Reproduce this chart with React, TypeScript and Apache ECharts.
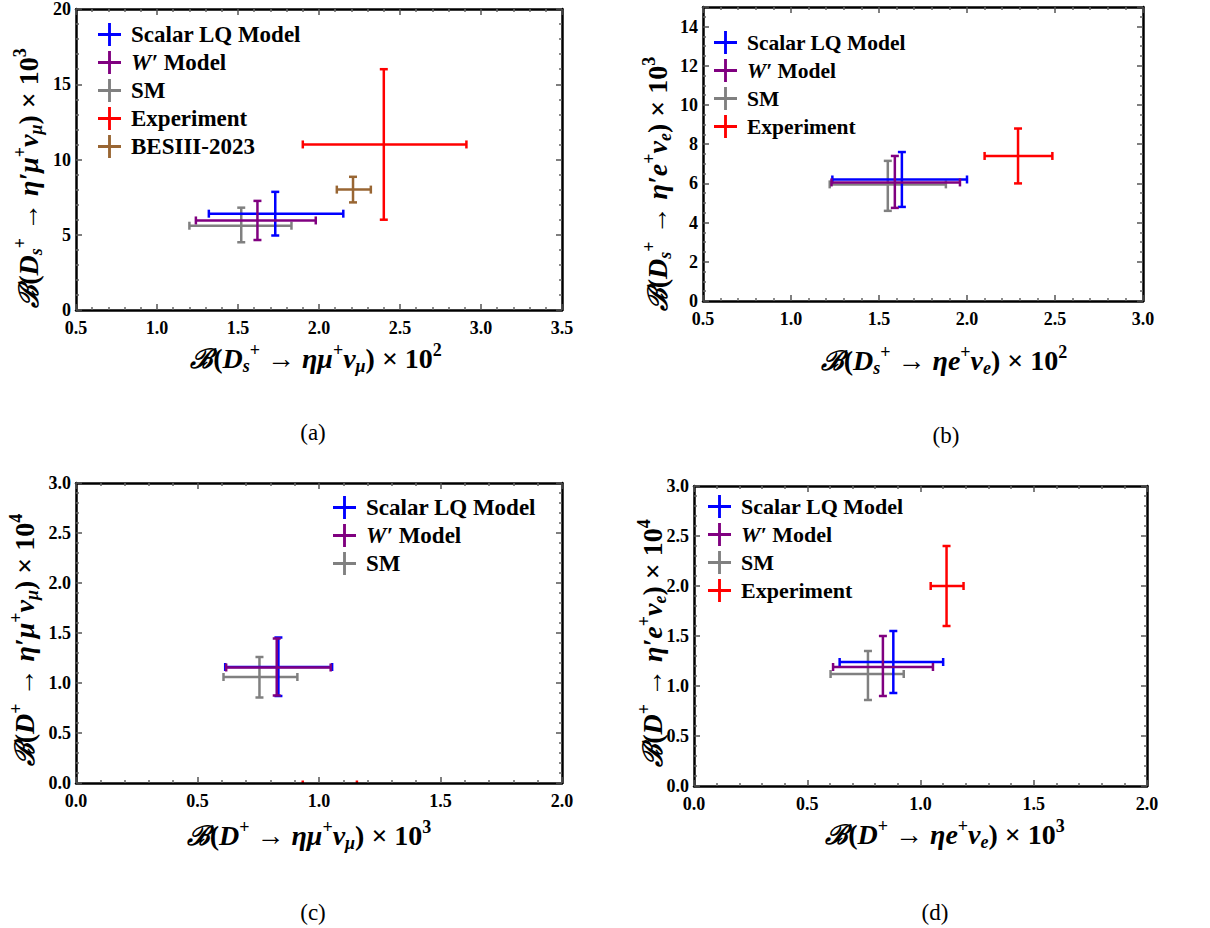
import React, { useEffect, useRef } from "react";
import * as echarts from "echarts";

// ---------- data: [x, y, xLow, xHigh, yLow, yHigh] ----------
const seriesNames = ["Scalar LQ Model", "W′ Model", "SM", "Experiment", "BESIII-2023"];
const seriesColors = ["#0000ff", "#800080", "#808080", "#ff0000", "#996633"];

// (a) B(Ds+ -> eta mu nu) x 10^2  vs  B(Ds+ -> eta' mu nu) x 10^3
const a_LQ = [1.73, 6.4, 1.32, 2.15, 4.95, 7.85];
const a_Wp = [1.62, 5.95, 1.24, 1.98, 4.65, 7.25];
const a_SM = [1.52, 5.6, 1.2, 1.83, 4.5, 6.8];
const a_Exp = [2.4, 11.0, 1.9, 2.91, 6.0, 16.0];
const a_BES = [2.21, 8.0, 2.11, 2.32, 7.15, 8.85];

// (b) B(Ds+ -> eta e nu) x 10^2  vs  B(Ds+ -> eta' e nu) x 10^3
const b_LQ = [1.63, 6.2, 1.235, 2.0, 4.8, 7.6];
const b_Wp = [1.59, 6.05, 1.23, 1.96, 4.75, 7.4];
const b_SM = [1.55, 5.95, 1.22, 1.88, 4.6, 7.15];
const b_Exp = [2.29, 7.4, 2.1, 2.485, 6.0, 8.8];

// (c) B(D+ -> eta mu nu) x 10^3  vs  B(D+ -> eta' mu nu) x 10^4
const c_LQ = [0.833, 1.16, 0.614, 1.054, 0.87, 1.455];
const c_Wp = [0.826, 1.155, 0.618, 1.048, 0.875, 1.445];
const c_SM = [0.755, 1.06, 0.607, 0.911, 0.855, 1.26];
const c_Exp = [1.045, -0.015, 0.933, 1.156, -0.015, -0.015];

// (d) B(D+ -> eta e nu) x 10^3  vs  B(D+ -> eta' e nu) x 10^4
const d_LQ = [0.88, 1.24, 0.643, 1.1, 0.93, 1.55];
const d_Wp = [0.834, 1.19, 0.614, 1.055, 0.9, 1.5];
const d_SM = [0.768, 1.12, 0.603, 0.926, 0.86, 1.35];
const d_Exp = [1.115, 2.0, 1.045, 1.19, 1.6, 2.4];

// axis ranges: [xMin, xMax, xInterval, yMin, yMax, yInterval]
const a_axes = [0.5, 3.5, 0.5, 0, 20, 5];
const b_axes = [0.5, 3.0, 0.5, 0, 15, 2];
const c_axes = [0, 2, 0.5, 0, 3, 0.5];
const d_axes = [0, 2, 0.5, 0, 3, 0.5];

const panelLabels = ["(a)", "(b)", "(c)", "(d)"];

const FONT = "Liberation Serif";

// ---------- layout ----------
const grids = [
  { left: 76, top: 8, width: 486, height: 302 },
  { left: 703, top: 7, width: 440, height: 294 },
  { left: 76, top: 483, width: 486, height: 300 },
  { left: 694, top: 486, width: 453, height: 300 },
];

const LH = 34;
const richT = {
  s: { fontSize: 27, fontWeight: "bold", fontFamily: "DejaVu Serif", fontStyle: "italic", lineHeight: LH, verticalAlign: "middle" },
  i: { fontSize: 28, fontWeight: "bold", fontStyle: "italic", fontFamily: FONT, lineHeight: LH, verticalAlign: "middle" },
  n: { fontSize: 28, fontWeight: "bold", fontFamily: FONT, lineHeight: LH, verticalAlign: "middle" },
  sub: { fontSize: 18, fontWeight: "bold", fontStyle: "italic", fontFamily: FONT, lineHeight: 18, verticalAlign: "bottom" },
  sup: { fontSize: 18, fontWeight: "bold", fontFamily: FONT, lineHeight: 20, verticalAlign: "top" },
};

const xTitles = [
  "{s|ℬ}{n|(}{i|D}{sub|s}{sup|+}{n| → }{i|ημ}{sup|+}{i|ν}{sub|μ}{n|) × 10}{sup|2}",
  "{s|ℬ}{n|(}{i|D}{sub|s}{sup|+}{n| → }{i|ηe}{sup|+}{i|ν}{sub|e}{n|) × 10}{sup|2}",
  "{s|ℬ}{n|(}{i|D}{sup|+}{n| → }{i|ημ}{sup|+}{i|ν}{sub|μ}{n|) × 10}{sup|3}",
  "{s|ℬ}{n|(}{i|D}{sup|+}{n| → }{i|ηe}{sup|+}{i|ν}{sub|e}{n|) × 10}{sup|3}",
];
const yTitles = [
  "{s|ℬ}{n|(}{i|D}{sub|s}{sup|+}{n| → }{i|η′μ}{sup|+}{i|ν}{sub|μ}{n|) × 10}{sup|3}",
  "{s|ℬ}{n|(}{i|D}{sub|s}{sup|+}{n| → }{i|η′e}{sup|+}{i|ν}{sub|e}{n|) × 10}{sup|3}",
  "{s|ℬ}{n|(}{i|D}{sup|+}{n| → }{i|η′μ}{sup|+}{i|ν}{sub|μ}{n|) × 10}{sup|4}",
  "{s|ℬ}{n|(}{i|D}{sup|+}{n| → }{i|η′e}{sup|+}{i|ν}{sub|e}{n|) × 10}{sup|4}",
];
const xTitlePos = [[316, 358], [944, 360], [309, 835], [945, 834]];
const yTitlePos = [[28, 178], [657, 184], [24, 640], [652, 643]];
const labelPos = [[313, 432], [946, 435], [313, 912], [935, 912]];

const legendPos = [
  { left: 98, top: 23, names: [0, 1, 2, 3, 4], size: 23 },
  { left: 714, top: 31, names: [0, 1, 2, 3], size: 21.5 },
  { left: 333, top: 496, names: [0, 1, 2], size: 23 },
  { left: 708, top: 495, names: [0, 1, 2, 3], size: 22 },
];

const PLUS = "path://M10.5,0L13.5,0L13.5,10.5L24,10.5L24,13.5L13.5,13.5L13.5,24L10.5,24L10.5,13.5L0,13.5L0,10.5L10.5,10.5Z";

function axisCommon(grid: number, min: number, max: number, interval: number) {
  return {
    type: "value",
    gridIndex: grid,
    min,
    max,
    interval,
    z: 5,
    splitLine: { show: false },
    axisLine: { show: true, onZero: false, lineStyle: { color: "#000", width: 2.5 } },
    axisTick: { show: true, inside: true, length: 6, lineStyle: { color: "#555", width: 1.5 } },
    minorTick: { show: true, splitNumber: interval === 2 ? 4 : 5, length: 3, lineStyle: { color: "#666", width: 1.5 } },
  };
}

const labelStyle = { color: "#000", fontFamily: FONT, fontWeight: "bold", fontSize: 18 };

function renderErr(color: string) {
  return (params: any, api: any) => {
    const x = api.value(0), y = api.value(1);
    const pl = api.coord([api.value(2), y]);
    const ph = api.coord([api.value(3), y]);
    const pb = api.coord([x, api.value(4)]);
    const pt = api.coord([x, api.value(5)]);
    const style = { stroke: color, lineWidth: 2.5, fill: "none" };
    const cap = 4;
    const children: any[] = [
      { type: "line", shape: { x1: pl[0], y1: pl[1], x2: ph[0], y2: ph[1] }, style },
      { type: "line", shape: { x1: pl[0], y1: pl[1] - cap, x2: pl[0], y2: pl[1] + cap }, style },
      { type: "line", shape: { x1: ph[0], y1: ph[1] - cap, x2: ph[0], y2: ph[1] + cap }, style },
    ];
    if (Math.abs(pb[1] - pt[1]) > 0.5) {
      children.push(
        { type: "line", shape: { x1: pb[0], y1: pb[1], x2: pt[0], y2: pt[1] }, style },
        { type: "line", shape: { x1: pb[0] - cap, y1: pb[1], x2: pb[0] + cap, y2: pb[1] }, style },
        { type: "line", shape: { x1: pt[0] - cap, y1: pt[1], x2: pt[0] + cap, y2: pt[1] }, style }
      );
    }
    return { type: "group", children };
  };
}

function errSeries(panel: number, nameIdx: number, values: number[]) {
  const color = seriesColors[nameIdx];
  return {
    type: "custom",
    name: seriesNames[nameIdx],
    xAxisIndex: panel * 2,
    yAxisIndex: panel * 2,
    color,
    itemStyle: { color },
    data: [values],
    renderItem: renderErr(color),
    clip: true,
  };
}

export default function App() {
  const ref = useRef<HTMLDivElement>(null);
  useEffect(() => {
    if (!ref.current) return;
    const chart = echarts.init(ref.current, undefined, { renderer: "svg" });
    const axesDefs = [a_axes, b_axes, c_axes, d_axes];
    const xAxis: any[] = [];
    const yAxis: any[] = [];
    axesDefs.forEach((ax, p) => {
      const xc = axisCommon(p, ax[0], ax[1], ax[2]);
      const yc = axisCommon(p, ax[3], ax[4], ax[5]);
      const yInt = ax[5] >= 1;
      xAxis.push({ ...xc, position: "bottom", axisLabel: { ...labelStyle, margin: 9, formatter: (v: number) => v.toFixed(1) } });
      xAxis.push({ ...xc, position: "top", axisLabel: { show: false } });
      yAxis.push({
        ...yc,
        position: "left",
        axisLabel: { ...labelStyle, margin: 5, showMaxLabel: p !== 1, formatter: (v: number) => (yInt ? String(Math.round(v)) : v.toFixed(1)) },
      });
      yAxis.push({ ...yc, position: "right", axisLabel: { show: false } });
    });

    const series = [
      errSeries(0, 2, a_SM), errSeries(0, 0, a_LQ), errSeries(0, 1, a_Wp), errSeries(0, 3, a_Exp), errSeries(0, 4, a_BES),
      errSeries(1, 2, b_SM), errSeries(1, 0, b_LQ), errSeries(1, 1, b_Wp), errSeries(1, 3, b_Exp),
      errSeries(2, 2, c_SM), errSeries(2, 0, c_LQ), errSeries(2, 1, c_Wp), errSeries(2, 3, c_Exp),
      errSeries(3, 2, d_SM), errSeries(3, 0, d_LQ), errSeries(3, 1, d_Wp), errSeries(3, 3, d_Exp),
    ];

    const legend = legendPos.map((lp) => ({
      orient: "vertical",
      left: lp.left,
      top: lp.top,
      data: lp.names.map((i) => seriesNames[i]),
      icon: PLUS,
      itemWidth: 25,
      itemHeight: 23,
      itemGap: 5,
      selectedMode: false,
      padding: 0,
      formatter: (name: string) => (name === "W′ Model" ? "{it|W′} Model" : name),
      textStyle: {
        color: "#000",
        fontFamily: FONT,
        fontWeight: "bold",
        fontSize: lp.size,
        padding: [0, 0, 0, 4],
        rich: { it: { fontFamily: FONT, fontWeight: "bold", fontStyle: "italic", fontSize: lp.size, color: "#000" } },
      },
    }));

    const graphic: any[] = [];
    for (let p = 0; p < 4; p++) {
      graphic.push({
        type: "text",
        x: xTitlePos[p][0],
        y: xTitlePos[p][1],
        style: { text: xTitles[p], rich: richT, align: "center", verticalAlign: "middle", fill: "#000" },
      });
      graphic.push({
        type: "text",
        x: yTitlePos[p][0],
        y: yTitlePos[p][1],
        rotation: Math.PI / 2,
        style: { text: yTitles[p], rich: richT, align: "center", verticalAlign: "middle", fill: "#000" },
      });
      graphic.push({
        type: "text",
        x: labelPos[p][0],
        y: labelPos[p][1],
        style: { text: panelLabels[p], fontFamily: FONT, fontSize: 23, align: "center", verticalAlign: "middle", fill: "#000" },
      });
    }

    chart.setOption({
      animation: false,
      backgroundColor: "#fff",
      grid: grids.map((g) => ({ ...g, containLabel: false })),
      xAxis,
      yAxis,
      legend,
      series,
      graphic,
    });
    return () => chart.dispose();
  }, []);
  return <div ref={ref} style={{ position: "absolute", left: 0, top: 0, width: 1210, height: 928 }} />;
}
